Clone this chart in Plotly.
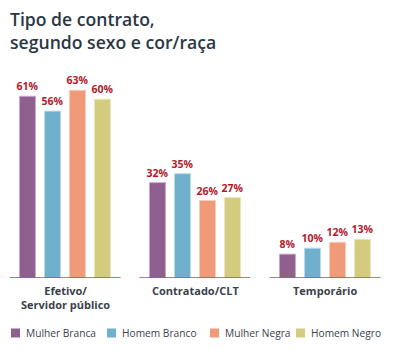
import plotly.graph_objects as go

categories = ["Efetivo/<br>Servidor público", "Contratado/CLT", "Temporário"]
series_names = ["Mulher Branca", "Homem Branco", "Mulher Negra", "Homem Negro"]
values = {
    "Mulher Branca": [61, 32, 8],
    "Homem Branco": [56, 35, 10],
    "Mulher Negra": [63, 26, 12],
    "Homem Negro": [60, 27, 13],
}
colors = ["#8F5F8F", "#6FB1CD", "#F09A7A", "#D3CC7E"]
edge_colors = ["#C9A9C9", "#B9DCEA", "#F8CDBD", "#E9E5BE"]
legend_x = [11, 107, 210, 296]  # left edge of each legend swatch, px

FONT = "Open Sans"
TEXT = "#3A414C"
RED = "#B3192C"
W, H = 393, 350

fig = go.Figure()
x_idx = list(range(len(categories)))
for name, col, edge in zip(series_names, colors, edge_colors):
    vals = values[name]
    fig.add_trace(go.Bar(
        x=x_idx, y=vals, name=name,
        marker=dict(color=col, line=dict(color=edge, width=1)),
        text=[f"<b>{v}%</b>" for v in vals],
        textposition="outside", constraintext="none",
        textfont=dict(family=FONT, size=10.5, color=RED),
        cliponaxis=False, showlegend=False,
    ))

for i, cat in zip(x_idx, categories):
    fig.add_shape(type="line", xref="x", yref="y", x0=i - 0.427, x1=i + 0.427,
                  y0=0, y1=0, line=dict(color="#C8403F", width=1.5))
    fig.add_annotation(text=f"<b>{cat}</b>", xref="x", yref="y", x=i, y=0,
                       xanchor="center", yanchor="top", yshift=-3,
                       showarrow=False, align="center",
                       font=dict(family=FONT, size=11, color=TEXT))

# legend: swatches + labels
ly = 333
for name, col, lx in zip(series_names, colors, legend_x):
    fig.add_shape(type="rect", xref="paper", yref="paper",
                  x0=lx / (W - 3), x1=(lx + 9) / (W - 3),
                  y0=-(ly + 4.5 - 278) / 208, y1=-(ly - 4.5 - 278) / 208,
                  line=dict(width=0), fillcolor=col)
    fig.add_annotation(text=name, xref="paper", yref="paper",
                       x=(lx + 13) / (W - 3), y=-(ly - 278) / 208,
                       xanchor="left", yanchor="middle", showarrow=False,
                       font=dict(family=FONT, size=10.2, color=TEXT))

fig.update_layout(
    width=W, height=H,
    margin=dict(l=0, r=3, t=70, b=72),
    paper_bgcolor="white", plot_bgcolor="white",
    barmode="group", bargap=0.23, bargroupgap=0.36,
    showlegend=False,
    title=dict(text="Tipo de contrato,<br>segundo sexo e cor/raça",
               font=dict(family=FONT, size=17.6, color="#2C3745", weight=600),
               x=10 / W, xanchor="left", xref="container",
               y=1 - 26 / H, yanchor="top", yref="container"),
    xaxis=dict(range=[-0.5, 2.5], showticklabels=False,
               showgrid=False, zeroline=False, showline=False, ticks=""),
    yaxis=dict(range=[0, 69.8], visible=False, showgrid=False, zeroline=False),
)

fig.write_html("out.html")
